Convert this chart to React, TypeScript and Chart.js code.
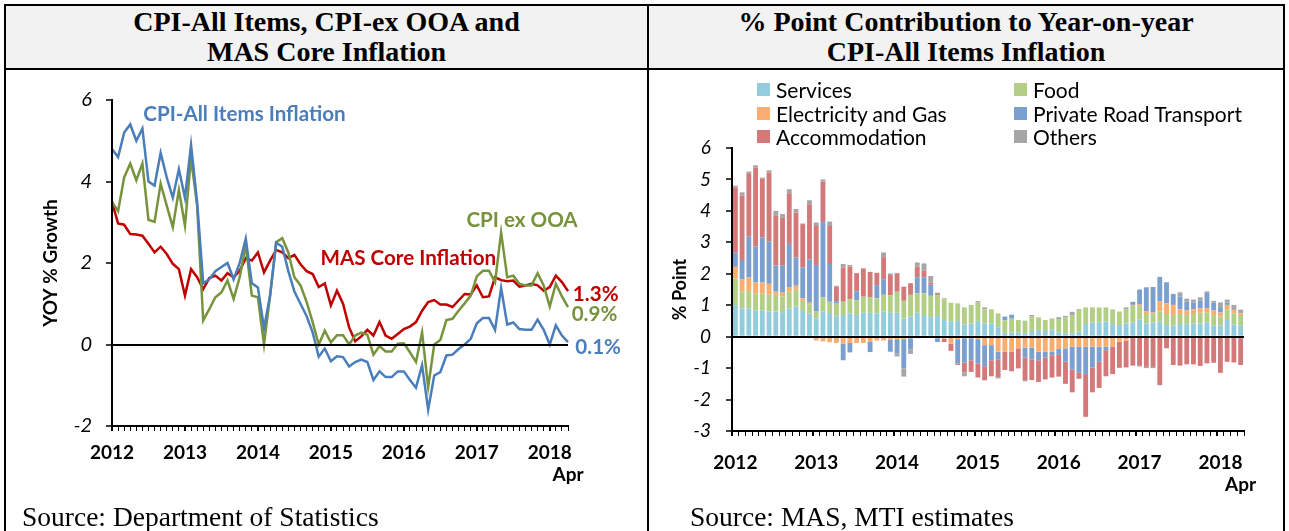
import React, { useEffect, useRef } from 'react';
import { Chart, registerables } from 'chart.js';

Chart.register(...registerables);

// ---------- categories ----------
const yearLabels = ['2012', '2013', '2014', '2015', '2016', '2017', '2018'];
const monthNames = ['Jan', 'Feb', 'Mar', 'Apr', 'May', 'Jun', 'Jul', 'Aug', 'Sep', 'Oct', 'Nov', 'Dec'];
const lastMonthLabel = 'Apr';
const months = yearLabels.flatMap((y) => monthNames.map((m) => `${m} ${y}`)).slice(0, 76);

// ---------- left chart: YoY % growth ----------
const cpiAllItems = [
  4.8, 4.6, 5.2, 5.4, 5.0, 5.3, 4.0, 3.9, 4.7, 4.1, 3.6, 4.3,
  3.6, 4.9, 3.5, 1.5, 1.6, 1.8, 1.9, 2.0, 1.6, 2.0, 2.6, 1.5,
  1.4, 0.4, 1.2, 2.5, 2.4, 1.8, 1.3, 1.0, 0.7, 0.3, -0.3, -0.1,
  -0.41, -0.29, -0.31, -0.54, -0.43, -0.37, -0.43, -0.87, -0.66, -0.8, -0.8, -0.66,
  -0.66, -0.87, -1.06, -0.51, -1.6, -0.76, -0.68, -0.27, -0.25, -0.11, 0.0, 0.14,
  0.52, 0.65, 0.65, 0.36, 1.39, 0.49, 0.54, 0.38, 0.36, 0.36, 0.61, 0.36,
  0.0, 0.47, 0.22, 0.06,
];
const cpiExOOA = [
  3.5, 3.27, 4.1, 4.44, 4.03, 4.44, 3.06, 3.01, 3.95, 3.41, 2.88, 3.79,
  2.92, 4.58, 3.4, 0.59, 0.87, 1.16, 1.28, 1.57, 1.12, 1.65, 2.43, 1.2,
  1.16, 0.0, 1.2, 2.51, 2.61, 2.26, 1.65, 1.45, 1.05, 0.55, 0.0, 0.34,
  0.05, 0.23, 0.23, 0.0, 0.22, 0.29, 0.24, -0.25, -0.04, -0.17, -0.17, 0.02,
  0.03, -0.19, -0.43, 0.3, -1.05, 0.0, 0.11, 0.6, 0.63, 0.83, 1.01, 1.2,
  1.67, 1.81, 1.81, 1.53, 2.75, 1.65, 1.69, 1.49, 1.45, 1.45, 1.75, 1.45,
  0.93, 1.49, 1.18, 0.92,
];
const masCore = [
  3.5, 2.97, 2.94, 2.71, 2.7, 2.67, 2.47, 2.26, 2.4, 2.22, 1.98, 1.85,
  1.2, 1.85, 1.65, 1.36, 1.63, 1.69, 1.57, 1.75, 1.65, 1.81, 2.12, 2.06,
  2.26, 1.77, 2.06, 2.32, 2.26, 2.12, 2.2, 1.97, 1.8, 1.73, 1.41, 1.5,
  0.96, 1.32, 1.0, 0.42, 0.08, 0.2, 0.36, 0.22, 0.55, 0.22, 0.14, 0.26,
  0.38, 0.44, 0.55, 0.83, 1.04, 1.09, 0.98, 0.98, 0.92, 1.08, 1.24, 1.23,
  1.45, 1.16, 1.18, 1.65, 1.58, 1.55, 1.57, 1.42, 1.45, 1.49, 1.45, 1.32,
  1.41, 1.69, 1.53, 1.31,
];
const lineNames = ['CPI-All Items Inflation', 'CPI ex OOA', 'MAS Core Inflation'];
const lineColors = ['#4a7ebb', '#77933c', '#c00000'];
const endLabels = ['0.1%', '0.9%', '1.3%'];

// text annotations placed in data coordinates (month index, value)
const lineNotes = [
  { text: lineNames[0], xi: 5.15, y: 5.65, color: lineColors[0] },
  { text: lineNames[2], xi: 34.3, y: 2.12, color: lineColors[2] },
  { text: lineNames[1], xi: 58.3, y: 3.04, color: lineColors[1] },
  { text: endLabels[2], xi: 75.8, y: 1.24, color: lineColors[2] },
  { text: endLabels[1], xi: 75.6, y: 0.74, color: lineColors[1] },
  { text: endLabels[0], xi: 76.2, y: -0.07, color: lineColors[0] },
];

// ---------- right chart: % point contribution ----------
const services = [
  1.0, 0.9, 0.9, 0.83, 0.83, 0.8, 0.8, 0.78, 0.9, 0.96, 0.82, 0.73,
  0.58, 0.8, 0.75, 0.65, 0.69, 0.74, 0.69, 0.76, 0.76, 0.74, 0.8, 0.76,
  0.76, 0.58, 0.64, 0.76, 0.69, 0.62, 0.66, 0.53, 0.48, 0.5, 0.38, 0.42,
  0.5, 0.42, 0.42, 0.3, 0.12, 0.13, 0.14, 0.11, 0.18, 0.21, 0.18, 0.23,
  0.14, 0.11, 0.11, 0.16, 0.4, 0.45, 0.45, 0.48, 0.4, 0.37, 0.42, 0.45,
  0.55, 0.42, 0.45, 0.48, 0.37, 0.35, 0.4, 0.39, 0.42, 0.42, 0.45, 0.35,
  0.35, 0.53, 0.39, 0.35,
];
const food = [
  0.85, 0.53, 0.55, 0.55, 0.55, 0.53, 0.53, 0.5, 0.53, 0.53, 0.32, 0.3,
  0.22, 0.45, 0.36, 0.42, 0.42, 0.45, 0.46, 0.51, 0.5, 0.48, 0.53, 0.56,
  0.67, 0.56, 0.69, 0.62, 0.69, 0.68, 0.66, 0.66, 0.6, 0.56, 0.55, 0.59,
  0.58, 0.45, 0.45, 0.44, 0.4, 0.44, 0.39, 0.4, 0.46, 0.4, 0.35, 0.35,
  0.42, 0.5, 0.58, 0.72, 0.53, 0.48, 0.48, 0.45, 0.47, 0.43, 0.46, 0.53,
  0.42, 0.3, 0.3, 0.32, 0.35, 0.34, 0.32, 0.3, 0.3, 0.34, 0.32, 0.34,
  0.29, 0.34, 0.35, 0.34,
];
const electricityGas = [
  0.37, 0.4, 0.43, 0.34, 0.34, 0.35, 0.1, 0.12, 0.13, 0.13, 0.08, 0.05,
  -0.12, -0.15, -0.18, -0.2, -0.22, -0.2, -0.2, -0.2, -0.17, -0.12, -0.12, -0.1,
  -0.08, -0.08, -0.05, -0.05, -0.04, -0.03, -0.05, -0.07, -0.22, -0.08, -0.05, -0.05,
  -0.08, -0.27, -0.27, -0.48, -0.48, -0.48, -0.37, -0.35, -0.35, -0.48, -0.48, -0.48,
  -0.39, -0.37, -0.32, -0.32, -0.32, -0.32, -0.32, -0.32, -0.32, -0.16, -0.13, 0.03,
  0.05, 0.08, 0.03, 0.32, 0.34, 0.32, 0.15, 0.14, 0.15, 0.14, 0.14, 0.14,
  0.13, 0.14, 0.11, 0.05,
];
const privateRoadTransport = [
  0.45, 0.61, 1.3, 1.15, 1.44, 1.35, 0.83, 0.86, 1.39, 0.9, 0.98, 1.37,
  1.48, 2.4, 1.2, 0.06, -0.53, -0.3, 0.29, 0, -0.32, 0.42, 0.5, -0.38,
  -0.45, -0.93, -0.35, 0.51, 0.51, 0.35, -0.12, 0, 0, -0.77, -0.77, -0.7,
  -0.77, -0.67, -0.48, -0.24, 0.12, 0.13, 0, -0.31, -0.37, -0.27, -0.18, -0.11,
  -0.19, -0.42, -0.72, -0.83, -0.87, -0.66, -0.48, -0.11, 0, 0, 0, 0.1,
  0.48, 0.77, 0.8, 0.78, 0.67, 0.35, 0.4, 0.28, 0.21, 0.24, 0.48, 0.25,
  0.17, 0.07, 0, -0.05,
];
const accommodation = [
  2.07, 2.05, 2.02, 2.51, 1.86, 2.19, 1.58, 1.52, 1.61, 1.43, 1.38, 1.76,
  1.24, 1.28, 1.21, 0.46, 1.09, 1.04, 0.58, 0.9, 0.8, 0.39, 0.7, 0.64,
  0.59, 0.45, 0.37, 0.34, 0.21, 0.07, 0.04, -0.1, -0.23, -0.05, -0.32, -0.37,
  -0.45, -0.45, -0.51, -0.57, -0.58, -0.62, -0.64, -0.72, -0.66, -0.69, -0.7, -0.71,
  -0.69, -0.71, -0.73, -0.19, -1.36, -0.79, -0.83, -0.83, -0.87, -0.83, -0.85, -0.92,
  -0.9, -0.96, -0.96, -1.54, -0.37, -0.9, -0.92, -0.88, -0.88, -0.93, -0.85, -0.83,
  -1.15, -0.8, -0.82, -0.85,
];
const others = [
  0.06, 0.1, 0.05, 0.07, 0.04, 0.07, 0.16, 0.12, 0.13, 0.11, 0.02, 0.13,
  0.11, 0.07, 0.14, 0.03, 0.11, 0.05, 0, 0, 0, 0, 0.15, 0.05,
  -0.1, -0.26, -0.15, 0.13, 0.23, 0.21, 0.04, 0.03, 0, 0, -0.12, 0,
  0.05, 0.06, 0, -0.04, 0, 0, 0, -0.04, 0.05, 0, 0, 0,
  0.06, 0.05, 0.1, 0, 0, 0, 0, 0, 0, 0, 0.05, 0,
  -0.05, -0.04, -0.04, 0, 0, 0, 0.14, 0.1, 0.1, 0.11, 0.05, 0.06,
  0.15, 0.1, 0.16, 0.12,
];
const barNames = ['Services', 'Food', 'Electricity and Gas', 'Private Road Transport', 'Accommodation', 'Others'];
const barColors = ['#93cddd', '#b3cf85', '#f9ae70', '#7ba0cf', '#d4797a', '#a6a6a6'];
const barSeries = [services, food, electricityGas, privateRoadTransport, accommodation, others];

const TICK_FONT = 'Lato';

const xTickCallback = (_v: any, index: number) => {
  if (index % 12 === 0) return yearLabels[index / 12];
  if (index === months.length - 1) return ['', lastMonthLabel];
  return '';
};

const notesPlugin = {
  id: 'lineNotes',
  afterDatasetsDraw(chart: any) {
    const { ctx, scales } = chart;
    ctx.save();
    ctx.font = `bold 20.6px ${TICK_FONT}`;
    ctx.textBaseline = 'middle';
    ctx.textAlign = 'left';
    for (const n of lineNotes) {
      ctx.fillStyle = n.color;
      ctx.fillText(n.text, scales.x.getPixelForValue(n.xi), scales.y.getPixelForValue(n.y));
    }
    ctx.restore();
  },
};

function LeftChart() {
  const ref = useRef<HTMLCanvasElement>(null);
  useEffect(() => {
    const chart = new Chart(ref.current!, {
      type: 'line',
      data: {
        labels: months,
        datasets: [0, 1, 2].map((k) => ({
          label: lineNames[k],
          data: [cpiAllItems, cpiExOOA, masCore][k],
          borderColor: lineColors[k],
          backgroundColor: lineColors[k],
          borderWidth: 2.5,
          pointRadius: 0,
          tension: 0,
        })),
      },
      options: {
        animation: false,
        responsive: false,
        events: [],
        layout: { padding: { top: 28, right: 79, left: 0, bottom: 0 } },
        plugins: { legend: { display: false }, tooltip: { enabled: false } },
        scales: {
          x: {
            offset: false,
            grid: {
              drawOnChartArea: false,
              tickLength: 5,
              color: '#000',
              lineWidth: (c: any) => (c.index % 12 === 0 ? 2 : 1),
            },
            border: { color: '#000', width: 2 },
            ticks: {
              autoSkip: false,
              maxRotation: 0,
              minRotation: 0,
              padding: 10,
              color: '#000',
              font: { family: TICK_FONT, weight: 'bold', size: 19 },
              callback: xTickCallback,
            },
            afterFit: (s: any) => { s.height = 76; },
          },
          y: {
            min: -2,
            max: 6,
            ticks: { stepSize: 2, padding: 14, color: '#000', font: { family: TICK_FONT, style: 'italic', size: 20 } },
            grid: {
              color: (c: any) => (c.tick && c.tick.value === 0 ? '#000' : 'rgba(0,0,0,0)'),
              lineWidth: 2,
              tickColor: '#000',
              tickLength: 6,
              tickWidth: 1.5,
              z: 1,
            },
            border: { color: '#000', width: 2, z: 1 },
            title: {
              display: true,
              text: 'YOY % Growth',
              color: '#000',
              font: { family: TICK_FONT, weight: 'bold', size: 19 },
              padding: { top: 32, bottom: 0 },
            },
            afterFit: (s: any) => { s.width = 105; },
          },
        },
      } as any,
      plugins: [notesPlugin],
    });
    return () => chart.destroy();
  }, []);
  return <canvas ref={ref} width={640} height={430} style={{ position: 'absolute', left: 7, top: 72 }} />;
}

function RightChart() {
  const ref = useRef<HTMLCanvasElement>(null);
  useEffect(() => {
    const chart = new Chart(ref.current!, {
      type: 'bar',
      data: {
        labels: months,
        datasets: barSeries.map((d, k) => ({
          label: barNames[k],
          data: d,
          backgroundColor: barColors[k],
          borderWidth: 0,
          categoryPercentage: 0.8,
          barPercentage: 0.9,
        })),
      },
      options: {
        animation: false,
        responsive: false,
        events: [],
        layout: { padding: { top: 76, right: 38, left: 0, bottom: 0 } },
        plugins: { legend: { display: false }, tooltip: { enabled: false } },
        scales: {
          x: {
            stacked: true,
            grid: { drawOnChartArea: false, tickLength: 5, color: '#000', offset: true,
              lineWidth: (c: any) => (c.index % 12 === 0 ? 2 : 1) },
            border: { color: '#000', width: 2 },
            ticks: {
              autoSkip: false,
              maxRotation: 0,
              minRotation: 0,
              padding: 15,
              color: '#000',
              font: { family: TICK_FONT, weight: 'bold', size: 19 },
              callback: xTickCallback,
            },
            afterFit: (s: any) => { s.height = 71; },
          },
          y: {
            stacked: true,
            min: -3,
            max: 6,
            ticks: { stepSize: 1, padding: 15, color: '#000', font: { family: TICK_FONT, style: 'italic', size: 19 } },
            grid: {
              color: (c: any) => (c.tick && c.tick.value === 0 ? '#000' : 'rgba(0,0,0,0)'),
              lineWidth: 2,
              tickColor: '#000',
              tickLength: 6,
              tickWidth: 1.5,
              z: 1,
            },
            border: { color: '#000', width: 2, z: 1 },
            title: {
              display: true,
              text: '% Point',
              color: '#000',
              font: { family: TICK_FONT, weight: 'bold', size: 18 },
              padding: { top: 19, bottom: 0 },
            },
            afterFit: (s: any) => { s.width = 82; },
          },
        },
      } as any,
    });
    return () => chart.destroy();
  }, []);
  return <canvas ref={ref} width={632} height={430} style={{ position: 'absolute', left: 650, top: 72 }} />;
}

const serif = '"Liberation Serif", "Times New Roman", serif';

export default function App() {
  const line = (s: React.CSSProperties) => <div style={{ position: 'absolute', background: '#000', ...s }} />;
  return (
    <div style={{ position: 'absolute', left: 0, top: 0, width: 1289, height: 531, overflow: 'hidden', background: '#fff' }}>
      {/* title backgrounds */}
      <div style={{ position: 'absolute', left: 6, top: 6, width: 641, height: 62, background: '#f2f2f2' }} />
      <div style={{ position: 'absolute', left: 649, top: 6, width: 634, height: 62, background: '#f2f2f2' }} />
      {/* titles */}
      <div style={{ position: 'absolute', left: 6, top: 7, width: 641, textAlign: 'center', fontFamily: serif, fontWeight: 'bold', fontSize: 28, lineHeight: '30px' }}>
        <div>CPI-All Items, CPI-ex OOA and</div>
        <div>MAS Core Inflation</div>
      </div>
      <div style={{ position: 'absolute', left: 649, top: 7, width: 634, textAlign: 'center', fontFamily: serif, fontWeight: 'bold', fontSize: 28, lineHeight: '30px' }}>
        <div>% Point Contribution to Year-on-year</div>
        <div>CPI-All Items Inflation</div>
      </div>
      {/* table borders */}
      {line({ left: 4, top: 4, width: 1281, height: 2 })}
      {line({ left: 4, top: 68, width: 1281, height: 2 })}
      {line({ left: 4, top: 4, width: 2, height: 540 })}
      {line({ left: 647, top: 4, width: 2, height: 540 })}
      {line({ left: 1283, top: 4, width: 2, height: 540 })}

      <LeftChart />
      <RightChart />

      {/* legend for the right chart */}
      <div style={{ position: 'absolute', left: 757, top: 78, display: 'grid', gridTemplateColumns: '257px 257px', gridAutoRows: '23.5px', fontFamily: TICK_FONT, fontSize: 21, color: '#000' }}>
        {barNames.map((n, k) => (
          <div key={n} style={{ display: 'flex', alignItems: 'center', whiteSpace: 'nowrap' }}>
            <span style={{ display: 'inline-block', width: 13, height: 13, background: barColors[k], marginRight: 6 }} />
            <span>{n}</span>
          </div>
        ))}
      </div>

      {/* sources */}
      <div style={{ position: 'absolute', left: 22, top: 502, fontFamily: serif, fontSize: 27.5, lineHeight: '30px', whiteSpace: 'nowrap' }}>
        Source: Department of Statistics
      </div>
      <div style={{ position: 'absolute', left: 690, top: 502, fontFamily: serif, fontSize: 27.5, lineHeight: '30px', whiteSpace: 'nowrap' }}>
        Source: MAS, MTI estimates
      </div>
    </div>
  );
}
